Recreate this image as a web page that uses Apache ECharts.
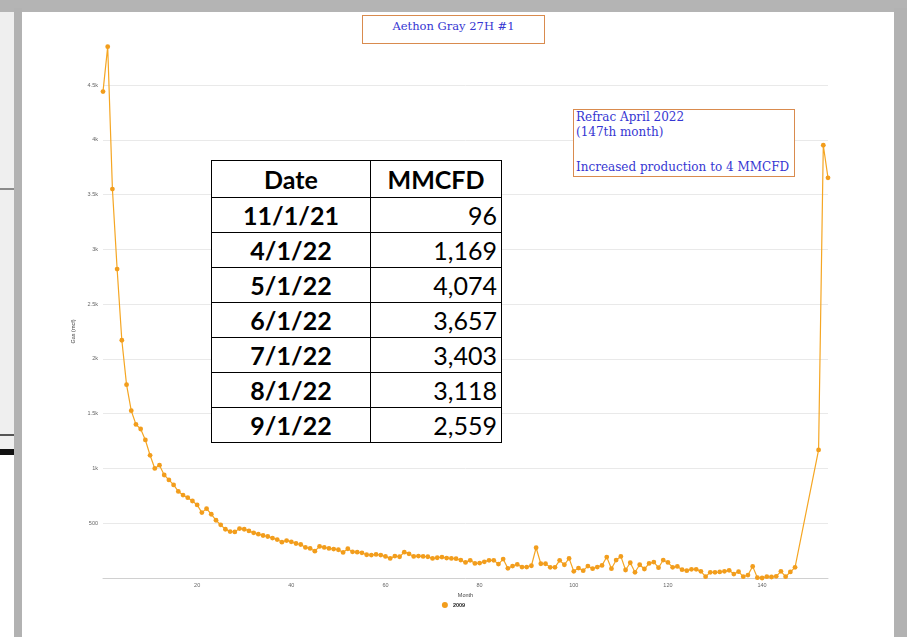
<!DOCTYPE html>
<html>
<head>
<meta charset="utf-8">
<title>Aethon Gray 27H #1</title>
<script src="https://cdn.jsdelivr.net/npm/echarts@6/dist/echarts.min.js"></script>
<style>
	html, body { margin: 0; padding: 0; }
	body { width: 907px; height: 637px; position: relative; overflow: hidden; background: #fff; }
	.strip { position: absolute; left: 0; top: 0; width: 14px; height: 455px; background: #efefef; }
	.topbar { position: absolute; left: 0; top: 0; width: 907px; height: 12px; background: #b4b4b4; }
	.leftbar { position: absolute; left: 14px; top: 8px; width: 8px; height: 629px; background: #b2b2b2; }
	.rightbar { position: absolute; left: 894px; top: 8px; width: 13px; height: 629px; background: #b2b2b2; }
	.panel { position: absolute; left: 22px; top: 12px; width: 872px; height: 625px; background: #fff; }
	.mark1 { position: absolute; left: 0; top: 188px; width: 14px; height: 2px; background: #8a8a8a; }
	.mark2 { position: absolute; left: 0; top: 434px; width: 14px; height: 2px; background: #555; }
	.mark3 { position: absolute; left: 0; top: 449px; width: 14px; height: 6px; background: #111; }
	#shape-gas { position: absolute; left: 0; top: 0; width: 907px; height: 637px; }
	.box { position: absolute; border: 1.5px solid #d98b4e; background: #fff; color: #3636d2;
		font-family: "DejaVu Serif", serif; box-sizing: border-box; }
	.title-box { left: 362px; top: 15px; width: 183px; height: 29px; text-align: center;
		font-size: 11.5px; padding-top: 3px; }
	.note-box { left: 573px; top: 109px; width: 222px; height: 68px; font-size: 12px;
		padding: 0 0 0 2px; line-height: 15px; }
	.note-box .gap { height: 20px; }
	table.rates { position: absolute; left: 211px; top: 160px; width: 291px; border-collapse: collapse;
		background: #fff; font-family: Lato, "Open Sans", sans-serif; font-size: 25px; color: #000; }
	table.rates td { border: 1.5px solid #000; height: 34px; padding: 0 4px; line-height: 30px; }
	table.rates tr.head td { height: 36px; font-weight: bold; text-align: center; }
	table.rates td.d { width: 150px; text-align: center; font-weight: bold; }
	table.rates td.v { text-align: right; }
</style>
</head>
<body>
<div class="strip"></div>
<div class="topbar"></div>
<div class="leftbar"></div>
<div class="rightbar"></div>
<div class="panel"></div>
<div class="mark1"></div>
<div class="mark2"></div>
<div class="mark3"></div>
<div id="shape-gas"></div>
<div class="box title-box">Aethon Gray 27H #1</div>
<div class="box note-box">Refrac April 2022<br>(147th month)<div class="gap"></div>Increased production to 4 MMCFD</div>
<table class="rates" id="rates"></table>
<script>
//-----------------------月度产气------------------------------
var months = [];
for (var m = 0; m <= 147; m++) months.push(m);
months.push(152, 153, 154);

var gas = [
	4440, 4850, 3550, 2820, 2170, 1765, 1527, 1402, 1360, 1260,
	1120, 1000, 1030, 940, 895, 850, 790, 757, 733, 703,
	667, 597, 633, 582, 527, 485, 445, 424, 421, 451,
	445, 430, 412, 400, 388, 379, 364, 351, 327, 342,
	330, 315, 306, 279, 270, 245, 288, 279, 270, 264,
	258, 233, 267, 239, 236, 230, 212, 209, 215, 209,
	197, 179, 200, 194, 236, 221, 197, 200, 197, 194,
	179, 185, 191, 182, 179, 176, 164, 142, 161, 133,
	136, 148, 161, 161, 127, 173, 88, 109, 124, 100,
	100, 112, 276, 130, 130, 97, 97, 161, 121, 179,
	61, 91, 67, 109, 85, 100, 115, 191, 85, 164,
	197, 73, 139, 52, 121, 82, 133, 145, 94, 164,
	142, 97, 106, 76, 67, 79, 79, 61, 12, 52,
	52, 55, 61, 70, 36, 58, 12, 27, 106, 3,
	0, 12, 9, 15, 61, 12, 55, 97,
	1169, 3950, 3653
];

var seriesName = '2009';
var tableDates = ['11/1/21', '4/1/22', '5/1/22', '6/1/22', '7/1/22', '8/1/22', '9/1/22'];
var tableMmcfd = ['96', '1,169', '4,074', '3,657', '3,403', '3,118', '2,559'];

// table overlay
var html = '<tr class="head"><td class="d">Date</td><td>MMCFD</td></tr>';
for (var i = 0; i < tableDates.length; i++) {
	html += '<tr><td class="d">' + tableDates[i] + '</td><td class="v">' + tableMmcfd[i] + '</td></tr>';
}
document.getElementById('rates').innerHTML = html;

var points = [];
for (var j = 0; j < months.length; j++) points.push([months[j], gas[j]]);

var dom = document.getElementById('shape-gas');
var myChart = echarts.init(dom, null, { renderer: 'canvas' });
var option = {
	backgroundColor: 'transparent',
	animation: false,
	grid: {
		left: 103,
		right: 79,
		top: 85,
		bottom: 59
	},
	legend: {
		data: [seriesName],
		bottom: 24,
		left: 'center',
		icon: 'circle',
		itemWidth: 6,
		itemHeight: 6,
		itemGap: 4,
		textStyle: { fontSize: 5.5, color: '#222', fontWeight: 'bold' }
	},
	xAxis: {
		type: 'value',
		min: 0,
		max: 154,
		interval: 20,
		name: 'Month',
		nameLocation: 'middle',
		nameGap: 11,
		nameTextStyle: { fontSize: 5.5, color: '#444' },
		axisLine: { lineStyle: { color: '#d0d0d0' } },
		axisTick: { show: false },
		splitLine: { show: false },
		axisLabel: { fontSize: 5.5, color: '#666', margin: 4, showMinLabel: false, showMaxLabel: false }
	},
	yAxis: {
		type: 'value',
		min: 0,
		max: 4500,
		interval: 500,
		name: 'Gas (mcf)',
		nameLocation: 'middle',
		nameGap: 26,
		nameTextStyle: { fontSize: 5.5, color: '#444' },
		axisLine: { show: false },
		axisTick: { show: false },
		splitLine: { lineStyle: { color: '#e9e9e9' } },
		axisLabel: {
			fontSize: 5.5,
			color: '#666',
			margin: 5,
			showMinLabel: false,
			formatter: function(v) {
				return v >= 1000 ? (v / 1000) + 'k' : String(v);
			}
		}
	},
	series: [{
		name: seriesName,
		type: 'line',
		data: points,
		clip: false,
		symbol: 'circle',
		symbolSize: 4.8,
		showAllSymbol: true,
		itemStyle: { color: '#f29d1c' },
		lineStyle: { color: '#f5a623', width: 1.2 }
	}]
};
if (option && typeof option === "object") {
	myChart.setOption(option, true);
}
</script>
</body>
</html>
